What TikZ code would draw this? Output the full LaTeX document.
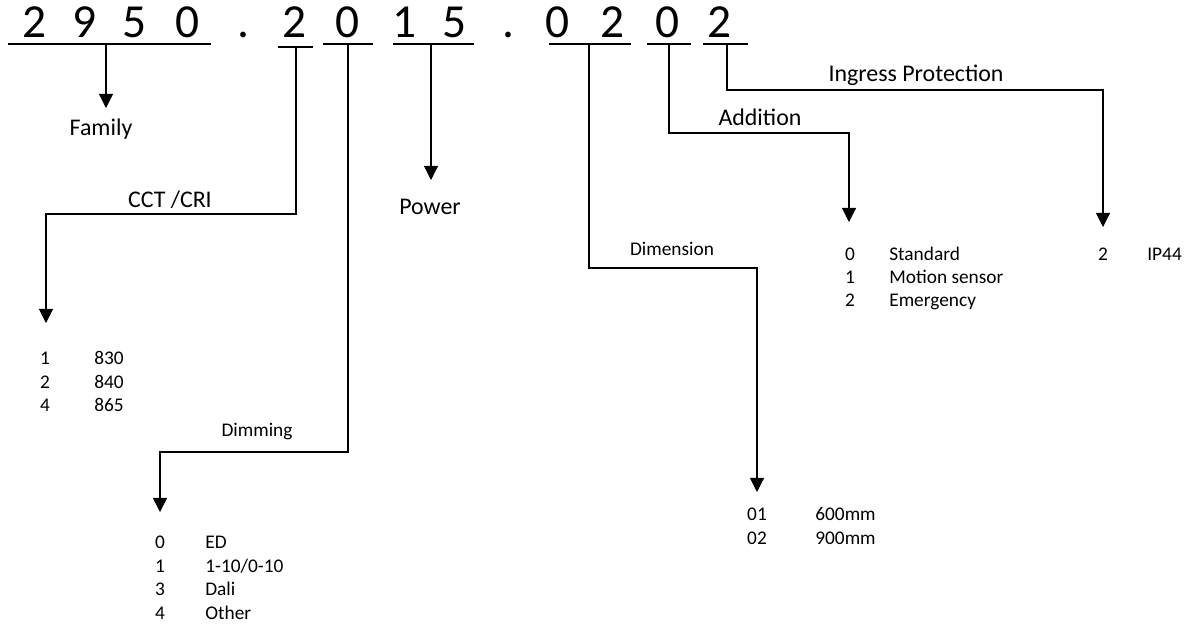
\documentclass[tikz,border=0pt]{standalone}
\usepackage{fontspec}
\setmainfont{Carlito}
\usetikzlibrary{arrows.meta}

\tikzset{
  digit/.style={anchor=base, inner sep=0pt, font=\fontsize{27}{32}\selectfont},
  title/.style={anchor=base, inner sep=0pt, font=\fontsize{13.6}{16}\selectfont},
  small/.style={anchor=base, inner sep=0pt, font=\fontsize{11}{13}\selectfont},
  code/.style={anchor=base, inner sep=0pt, font=\fontsize{11}{13}\selectfont},
  entry/.style={anchor=base west, inner sep=0pt, font=\fontsize{11}{13}\selectfont},
  bar/.style={line width=0.6pt},
  link/.style={line width=0.6pt, -{Triangle[length=8pt,width=8pt]}},
}

\begin{document}
\begin{tikzpicture}[x=0.02cm, y=-0.02cm]
		\useasboundingbox (0,0) rectangle (1185,625);

		% the code digits
		\node[digit] (f1) at (35,38) {2};
		\node[digit] (f2) at (85,38) {9};
		\node[digit] (f3) at (135,38) {5};
		\node[digit] (f4) at (188,38) {0};
		\node[digit] (dot1) at (243,38) {.};
		\node[digit] (cct) at (295,38) {2};
		\node[digit] (dim) at (348,38) {0};
		\node[digit] (p1) at (405,38) {1};
		\node[digit] (p2) at (455,38) {5};
		\node[digit] (dot2) at (508,38) {.};
		\node[digit] (s1) at (558,38) {0};
		\node[digit] (s2) at (613,38) {2};
		\node[digit] (add) at (668,38) {0};
		\node[digit] (ip) at (720,38) {2};

		% underlines
		\draw[bar] (8,44) -- (211,44);
		\draw[bar] (278,47) -- (313,47);
		\draw[bar] (323,44) -- (373,44);
		\draw[bar] (393,44) -- (474,44);
		\draw[bar] (549,44) -- (631,44);
		\draw[bar] (647,44) -- (691,44);
		\draw[bar] (703,44) -- (748,44);

		% connector ends
		\coordinate (famU) at (106,44);  \coordinate (famT) at (106,108);
		\coordinate (cctU) at (296,47);  \coordinate (cctK) at (46,214);   \coordinate (cctT) at (46,323);
		\coordinate (dimU) at (348,44);  \coordinate (dimK) at (160,452);  \coordinate (dimT) at (160,512);
		\coordinate (powU) at (431,44);  \coordinate (powT) at (431,180);
		\coordinate (sizU) at (589,44);  \coordinate (sizK) at (757,268);  \coordinate (sizT) at (757,492);
		\coordinate (addU) at (669,44);  \coordinate (addK) at (849,133);  \coordinate (addT) at (849,222);
		\coordinate (ipU) at (727,44);   \coordinate (ipK) at (1103,90);   \coordinate (ipT) at (1103,227);

		\draw[link] (famU) -- (famT);
		\draw[link] (cctU) |- (cctK) -- (cctT);
		\draw[link] (dimU) |- (dimK) -- (dimT);
		\draw[link] (powU) -- (powT);
		\draw[link] (sizU) |- (sizK) -- (sizT);
		\draw[link] (addU) |- (addK) -- (addT);
		\draw[link] (ipU) |- (ipK) -- (ipT);

		% labels
		\node[title] (famL) at (101,135) {Family};
		\node[title] (cctL) at (170,207) {CCT /CRI};
		\node[small] (dimL) at (257,436) {Dimming};
		\node[title] (powL) at (430,214) {Power};
		\node[small] (sizL) at (672,255) {Dimension};
		\node[title] (addL) at (760,125) {Addition};
		\node[title] (ipL) at (916,82) {Ingress Protection};

		% CCT /CRI values
		\node[code] (c1) at (45,364) {1};  \node[entry] (c1v) at (94,364) {830};
		\node[code] (c2) at (45,388) {2};  \node[entry] (c2v) at (94,388) {840};
		\node[code] (c4) at (45,411) {4};  \node[entry] (c4v) at (94,411) {865};

		% dimming values
		\node[code] (m0) at (160,548) {0};  \node[entry] (m0v) at (205,548) {ED};
		\node[code] (m1) at (160,572) {1};  \node[entry] (m1v) at (205,572) {1-10/0-10};
		\node[code] (m3) at (160,595) {3};  \node[entry] (m3v) at (205,595) {Dali};
		\node[code] (m4) at (160,619) {4};  \node[entry] (m4v) at (205,619) {Other};

		% dimension values
		\node[code] (z1) at (757,520) {01};  \node[entry] (z1v) at (815,520) {600mm};
		\node[code] (z2) at (757,544) {02};  \node[entry] (z2v) at (815,544) {900mm};

		% addition values
		\node[code] (a0) at (850,260) {0};  \node[entry] (a0v) at (889,260) {Standard};
		\node[code] (a1) at (850,283) {1};  \node[entry] (a1v) at (889,283) {Motion sensor};
		\node[code] (a2) at (850,306) {2};  \node[entry] (a2v) at (889,306) {Emergency};

		% ingress protection value
		\node[code] (i2) at (1103,260) {2};  \node[entry] (i2v) at (1147,260) {IP44};
	\end{tikzpicture}
\end{document}
